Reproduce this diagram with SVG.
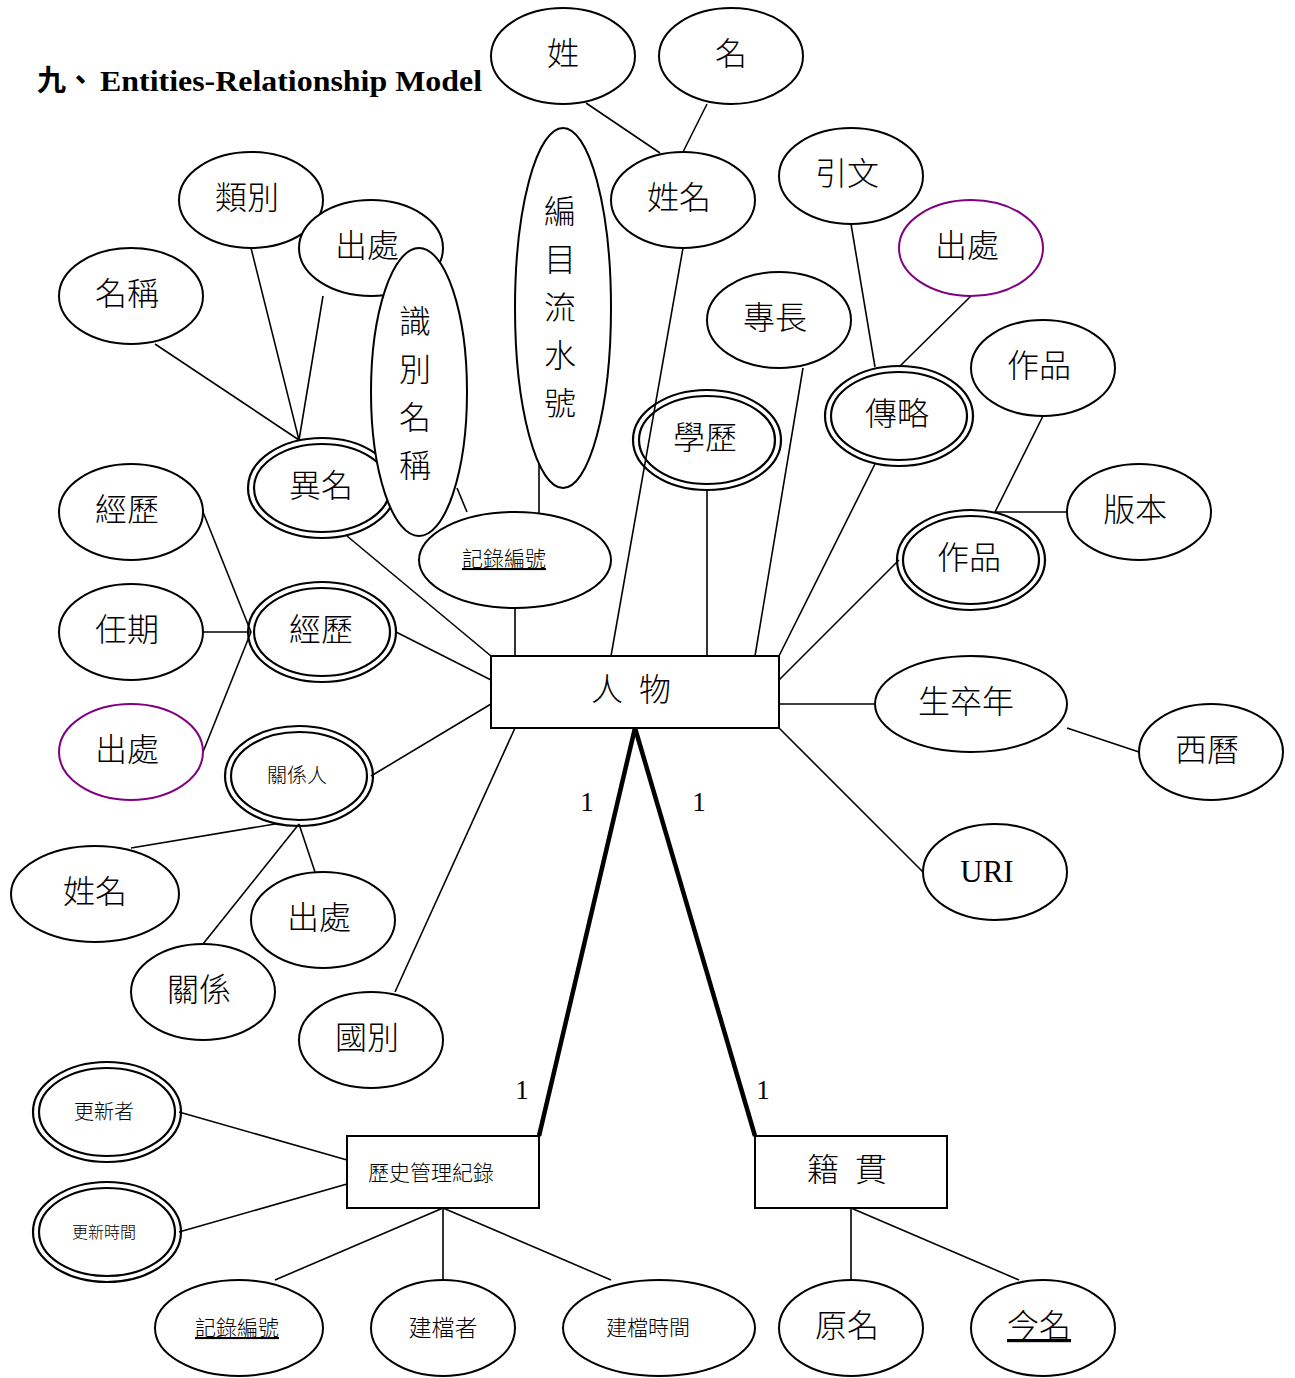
<svg xmlns="http://www.w3.org/2000/svg" width="1295" height="1378" viewBox="0 0 1295 1378">
<style>
.bg{fill:#fff}
.e{fill:#fff;stroke:#000;stroke-width:2}
.p{fill:#fff;stroke:#800080;stroke-width:2}
.d{fill:none;stroke:#000;stroke-width:2.2}
.r{fill:#fff;stroke:#000;stroke-width:2}
.c line{stroke:#000;stroke-width:1.6}
.c .thick{stroke-width:4.5}
text{font-family:"Noto Sans CJK TC","Noto Sans CJK SC",sans-serif;font-weight:300;fill:#000;text-anchor:middle}
.t32{font-size:32px}
.t24{font-size:23px}
.t21{font-size:21px}
.t20{font-size:20px}
.t16{font-size:16px}
.u{text-decoration:underline}
.num{font-family:"Liberation Serif",serif;font-size:27px;font-weight:normal}
.title{text-anchor:start;font-size:30px;font-weight:bold}
</style>
<rect class="bg" x="0" y="0" width="1295" height="1378"/>

<text class="title" x="37" y="91"><tspan font-family="Noto Sans CJK TC, sans-serif" font-size="29">九、</tspan><tspan x="100" font-family="Liberation Serif, serif" textLength="382" lengthAdjust="spacingAndGlyphs">Entities-Relationship Model</tspan></text>

<g id="connectors" class="c">
<line x1="586" y1="103" x2="660" y2="153"/>
<line x1="707" y1="104" x2="683" y2="152"/>
<line x1="155" y1="344" x2="299" y2="440"/>
<line x1="251" y1="248" x2="299" y2="440"/>
<line x1="323" y1="296" x2="299" y2="440"/>
<line x1="347" y1="536" x2="491" y2="656"/>
<line x1="457" y1="488" x2="467" y2="512"/>
<line x1="539" y1="464" x2="539" y2="513"/>
<line x1="515" y1="608" x2="515" y2="656"/>
<line x1="683" y1="248" x2="611" y2="656"/>
<line x1="707" y1="490" x2="707" y2="656"/>
<line x1="803" y1="368" x2="755" y2="656"/>
<line x1="851" y1="224" x2="875" y2="367"/>
<line x1="971" y1="296" x2="899" y2="367"/>
<line x1="875" y1="464" x2="779" y2="656"/>
<line x1="1043" y1="416" x2="995" y2="512"/>
<line x1="995" y1="512" x2="1067" y2="512"/>
<line x1="899" y1="560" x2="779" y2="680"/>
<line x1="779" y1="704" x2="875" y2="704"/>
<line x1="1067" y1="728" x2="1139" y2="752"/>
<line x1="779" y1="728" x2="923" y2="872"/>
<line x1="396" y1="632" x2="491" y2="680"/>
<line x1="203" y1="512" x2="251" y2="632"/>
<line x1="203" y1="632" x2="251" y2="632"/>
<line x1="203" y1="752" x2="251" y2="632"/>
<line x1="371" y1="776" x2="491" y2="704"/>
<line x1="131" y1="848" x2="275" y2="824"/>
<line x1="203" y1="944" x2="299" y2="824"/>
<line x1="315" y1="872" x2="299" y2="824"/>
<line x1="395" y1="992" x2="515" y2="728"/>
<line class="thick" x1="635" y1="728" x2="539" y2="1136"/>
<line class="thick" x1="635" y1="728" x2="755" y2="1136"/>
<line x1="179" y1="1112" x2="347" y2="1160"/>
<line x1="179" y1="1232" x2="347" y2="1184"/>
<line x1="443" y1="1208" x2="275" y2="1280"/>
<line x1="443" y1="1208" x2="443" y2="1280"/>
<line x1="443" y1="1208" x2="611" y2="1280"/>
<line x1="851" y1="1208" x2="851" y2="1280"/>
<line x1="851" y1="1208" x2="1019" y2="1280"/>
<text class="num" x="587" y="811">1</text>
<text class="num" x="699" y="811">1</text>
<text class="num" x="522" y="1099">1</text>
<text class="num" x="763" y="1099">1</text>
</g>

<g id="n-xing"><ellipse class="e" cx="563" cy="56" rx="72" ry="48"/><text class="t32" x="563" y="65">姓</text></g>
<g id="n-ming"><ellipse class="e" cx="731" cy="56" rx="72" ry="48"/><text class="t32" x="731" y="65">名</text></g>
<g id="n-xingming"><ellipse class="e" cx="683" cy="200" rx="72" ry="48"/><text class="t32" x="679" y="209">姓名</text></g>
<g id="n-bianmu"><ellipse class="e" cx="563" cy="308" rx="48" ry="180"/>
<text class="t32" x="560" y="223">編</text><text class="t32" x="560" y="271">目</text><text class="t32" x="560" y="319">流</text><text class="t32" x="560" y="367">水</text><text class="t32" x="560" y="415">號</text></g>
<g id="n-yinwen"><ellipse class="e" cx="851" cy="176" rx="72" ry="48"/><text class="t32" x="847" y="185">引文</text></g>
<g id="n-chuchu-bio"><ellipse class="p" cx="971" cy="248" rx="72" ry="48"/><text class="t32" x="967" y="257">出處</text></g>
<g id="n-zhuanchang"><ellipse class="e" cx="779" cy="320" rx="72" ry="48"/><text class="t32" x="775" y="329">專長</text></g>
<g id="n-zuopin-attr"><ellipse class="e" cx="1043" cy="368" rx="72" ry="48"/><text class="t32" x="1039" y="377">作品</text></g>
<g id="n-zhuanlue"><ellipse class="d" cx="899" cy="416" rx="74" ry="50"/><ellipse class="d" cx="899" cy="416" rx="68" ry="44"/><text class="t32" x="897" y="425">傳略</text></g>
<g id="n-xueli"><ellipse class="d" cx="707" cy="440" rx="74" ry="50"/><ellipse class="d" cx="707" cy="440" rx="68" ry="44"/><text class="t32" x="705" y="449">學歷</text></g>
<g id="n-banben"><ellipse class="e" cx="1139" cy="512" rx="72" ry="48"/><text class="t32" x="1135" y="521">版本</text></g>
<g id="n-zuopin"><ellipse class="d" cx="971" cy="560" rx="74" ry="50"/><ellipse class="d" cx="971" cy="560" rx="68" ry="44"/><text class="t32" x="969" y="569">作品</text></g>
<g id="n-shengzu"><ellipse class="e" cx="971" cy="704" rx="96" ry="48"/><text class="t32" x="966" y="713">生卒年</text></g>
<g id="n-xili"><ellipse class="e" cx="1211" cy="752" rx="72" ry="48"/><text class="t32" x="1207" y="761">西曆</text></g>
<g id="n-uri"><ellipse class="e" cx="995" cy="872" rx="72" ry="48"/><text class="num" style="font-size:31px" x="987" y="882">URI</text></g>

<g id="n-leibie"><ellipse class="e" cx="251" cy="200" rx="72" ry="48"/><text class="t32" x="247" y="209">類別</text></g>
<g id="n-chuchu-alias"><ellipse class="e" cx="371" cy="248" rx="72" ry="48"/><text class="t32" x="367" y="257">出處</text></g>
<g id="n-mingcheng"><ellipse class="e" cx="131" cy="296" rx="72" ry="48"/><text class="t32" x="127" y="305">名稱</text></g>
<g id="n-yiming"><ellipse class="d" cx="322" cy="488" rx="74" ry="50"/><ellipse class="d" cx="322" cy="488" rx="68" ry="44"/><text class="t32" x="321" y="497">異名</text></g>
<g id="n-shibie"><ellipse class="e" cx="419" cy="392" rx="48" ry="144"/>
<text class="t32" x="415" y="333">識</text><text class="t32" x="415" y="381">別</text><text class="t32" x="415" y="429">名</text><text class="t32" x="415" y="477">稱</text></g>
<g id="n-jilu-top"><ellipse class="e" cx="515" cy="560" rx="96" ry="48"/><text class="t21 u" x="504" y="566">記錄編號</text></g>

<g id="n-jingli-attr"><ellipse class="e" cx="131" cy="512" rx="72" ry="48"/><text class="t32" x="127" y="521">經歷</text></g>
<g id="n-renqi"><ellipse class="e" cx="131" cy="632" rx="72" ry="48"/><text class="t32" x="127" y="641">任期</text></g>
<g id="n-chuchu-career"><ellipse class="p" cx="131" cy="752" rx="72" ry="48"/><text class="t32" x="127" y="761">出處</text></g>
<g id="n-jingli"><ellipse class="d" cx="322" cy="632" rx="74" ry="50"/><ellipse class="d" cx="322" cy="632" rx="68" ry="44"/><text class="t32" x="321" y="641">經歷</text></g>
<g id="n-guanxiren"><ellipse class="d" cx="299" cy="776" rx="74" ry="50"/><ellipse class="d" cx="299" cy="776" rx="68" ry="44"/><text class="t20" x="297" y="783">關係人</text></g>
<g id="n-xingming2"><ellipse class="e" cx="95" cy="894" rx="84" ry="48"/><text class="t32" x="95" y="903">姓名</text></g>
<g id="n-chuchu-rel"><ellipse class="e" cx="323" cy="920" rx="72" ry="48"/><text class="t32" x="319" y="929">出處</text></g>
<g id="n-guanxi"><ellipse class="e" cx="203" cy="992" rx="72" ry="48"/><text class="t32" x="199" y="1001">關係</text></g>
<g id="n-guobie"><ellipse class="e" cx="371" cy="1040" rx="72" ry="48"/><text class="t32" x="367" y="1049">國別</text></g>

<g id="n-renwu"><rect class="r" x="491" y="656" width="288" height="72"/><text class="t32" x="607" y="701">人</text><text class="t32" x="655" y="701">物</text></g>
<g id="n-lishi"><rect class="r" x="347" y="1136" width="192" height="72"/><text class="t21" x="431" y="1180">歷史管理紀錄</text></g>
<g id="n-jiguan"><rect class="r" x="755" y="1136" width="192" height="72"/><text class="t32" x="823" y="1181">籍</text><text class="t32" x="871" y="1181">貫</text></g>

<g id="n-gengxinzhe"><ellipse class="d" cx="107" cy="1112" rx="74" ry="50"/><ellipse class="d" cx="107" cy="1112" rx="68" ry="44"/><text class="t20" x="104" y="1119">更新者</text></g>
<g id="n-gengxinshijian"><ellipse class="d" cx="107" cy="1232" rx="74" ry="50"/><ellipse class="d" cx="107" cy="1232" rx="68" ry="44"/><text class="t16" x="104" y="1238">更新時間</text></g>
<g id="n-jilu-bottom"><ellipse class="e" cx="239" cy="1328" rx="84" ry="48"/><text class="t21 u" x="237" y="1335">記錄編號</text></g>
<g id="n-jiandangzhe"><ellipse class="e" cx="443" cy="1328" rx="72" ry="48"/><text class="t24" x="443" y="1336">建檔者</text></g>
<g id="n-jiandangshijian"><ellipse class="e" cx="659" cy="1328" rx="96" ry="48"/><text class="t21" x="648" y="1335">建檔時間</text></g>
<g id="n-yuanming"><ellipse class="e" cx="851" cy="1328" rx="72" ry="48"/><text class="t32" x="847" y="1337">原名</text></g>
<g id="n-jinming"><ellipse class="e" cx="1043" cy="1328" rx="72" ry="48"/><text class="t32 u" x="1039" y="1337">今名</text></g>
</svg>
